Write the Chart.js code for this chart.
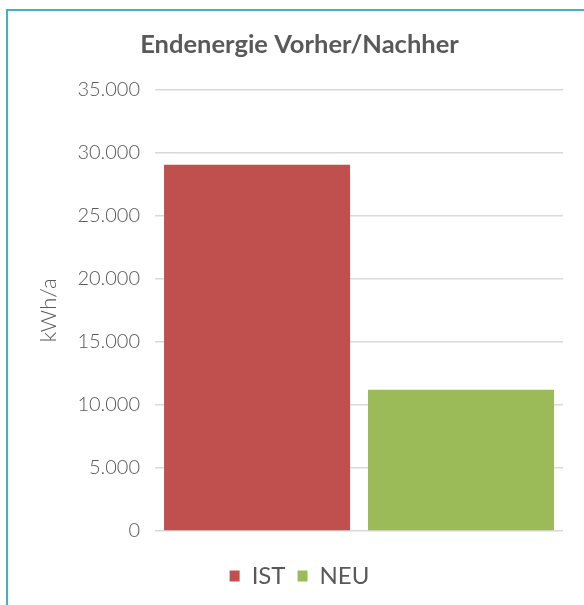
<!DOCTYPE html>
<html>
<head>
<meta charset="utf-8">
<script src="https://cdn.jsdelivr.net/npm/chart.js@4.4.1/dist/chart.umd.min.js"></script>
<style>
  html, body { margin: 0; padding: 0; background: #ffffff; }
  body { width: 584px; height: 605px; overflow: hidden; position: relative; }
  #frame { position: absolute; left: 6px; top: 9px; width: 640px; height: 660px;
           border-left: 2px solid #4BACC6; border-top: 2px solid #4BACC6; box-sizing: border-box; }
  #wrap { position: absolute; left: 0; top: 0; width: 584px; height: 605px; }
</style>
</head>
<body>
<div id="frame"></div>
<div id="wrap"><canvas id="c" width="584" height="605"></canvas></div>
<script>
const chartTitle = 'Endenergie Vorher/Nachher';
const axisTitle = 'kWh/a';
const seriesNames = ['IST', 'NEU'];
const seriesValues = [29050, 11200];
const seriesColors = ['#C0504D', '#9BBB59'];
const categories = [''];
const yMin = 0, yMax = 35000, yStep = 5000;

function fmt(v) {
  return String(Math.round(v)).replace(/\B(?=(\d{3})+(?!\d))/g, '.');
}

const datasets = seriesNames.map((n, i) => ({
  label: n,
  data: [seriesValues[i]],
  backgroundColor: seriesColors[i],
  borderWidth: 0,
  barPercentage: 0.912,
  categoryPercentage: 1.0
}));

new Chart(document.getElementById('c'), {
  type: 'bar',
  data: { labels: categories, datasets },
  options: {
    responsive: false,
    animation: false,
    devicePixelRatio: 1,
    layout: { padding: { left: 36, right: 21, top: 0, bottom: 7 } },
    plugins: {
      title: {
        display: true, text: chartTitle, color: '#595959',
        font: { family: 'Lato', size: 25.5, weight: 'bold' },
        padding: { top: 29, bottom: 30 }
      },
      legend: {
        position: 'bottom',
        labels: {
          color: '#595959',
          font: { family: 'Lato', size: 24, weight: 400 },
          boxWidth: 10, boxHeight: 11, padding: 12
        }
      },
      tooltip: { enabled: false }
    },
    scales: {
      x: {
        display: true,
        grid: { display: false },
        border: { display: false },
        ticks: { display: false },
        afterFit: (s) => { s.height = 21; }
      },
      y: {
        min: yMin, max: yMax,
        grid: { color: '#d9d9d9', lineWidth: 1.5, drawTicks: false },
        border: { display: false },
        title: {
          display: true, text: axisTitle, color: '#595959',
          font: { family: 'Lato', size: 22, weight: 300 },
          padding: { top: 0, bottom: 0 }
        },
        ticks: {
          stepSize: yStep, color: '#595959', padding: 15,
          font: { family: 'Lato', size: 20, weight: 300 },
          callback: (v) => fmt(v)
        }
      }
    }
  }
});
</script>
</body>
</html>
